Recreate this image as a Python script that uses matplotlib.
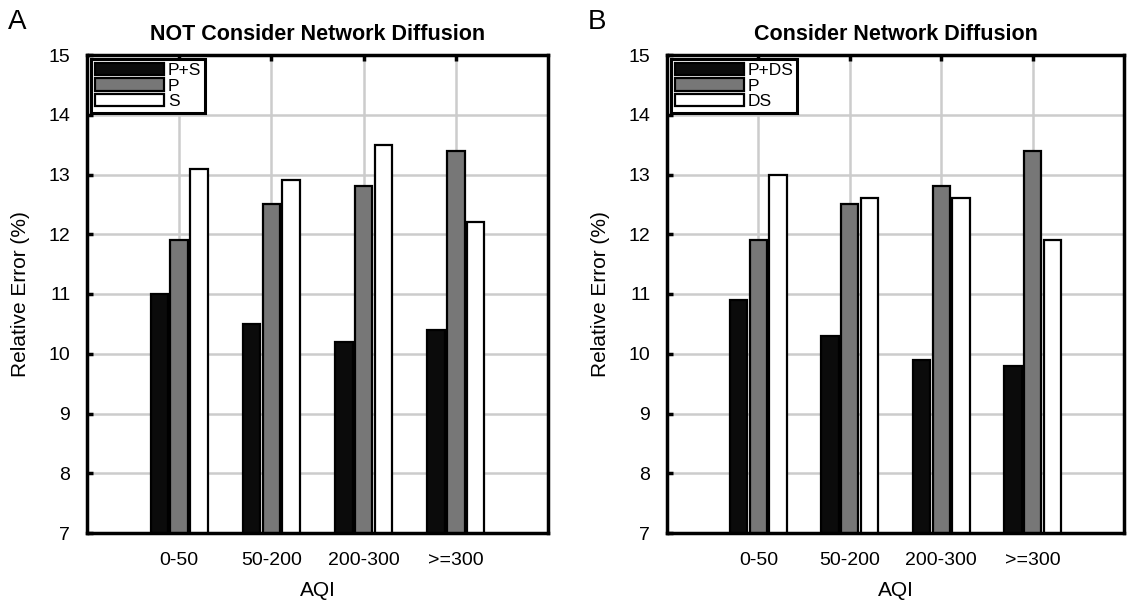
import matplotlib
matplotlib.use("Agg")
import matplotlib.pyplot as plt
import numpy as np

plt.rcParams['font.family'] = ['Liberation Sans', 'DejaVu Sans']

categories = ['0-50', '50-200', '200-300', '>=300']

# Panel A: NOT Consider Network Diffusion
a_ps = [11.0, 10.5, 10.2, 10.4]
a_p = [11.9, 12.5, 12.8, 13.4]
a_s = [13.1, 12.9, 13.5, 12.2]
a_labels = ['P+S', 'P', 'S']

# Panel B: Consider Network Diffusion
b_pds = [10.9, 10.3, 9.9, 9.8]
b_p = [11.9, 12.5, 12.8, 13.4]
b_ds = [13.0, 12.6, 12.6, 11.9]
b_labels = ['P+DS', 'P', 'DS']

yticks = [7, 8, 9, 10, 11, 12, 13, 14, 15]

colors = ['#0b0b0b', '#777777', '#ffffff']

fig = plt.figure(figsize=(11.29, 6.03), dpi=100)
axA = fig.add_axes([87/1129, 70/603, 461/1129, 478/603])
axB = fig.add_axes([667/1129, 70/603, 457/1129, 478/603])


def draw(ax, series, labels, title):
    x = np.arange(1, len(categories) + 1)
    offs = [-0.215, 0.0, 0.215]
    for vals, off, c, lab in zip(series, offs, colors, labels):
        ax.bar(x + off, vals, width=0.19, color=c, edgecolor='black',
               linewidth=1.6, label=lab, zorder=2)
    ax.set_xlim(0, 5)
    ax.set_ylim(7, 15)
    ax.set_xticks(x)
    ax.set_xticklabels(categories)
    ax.set_yticks(yticks)
    ax.grid(True, color='#cccccc', linewidth=1.8, zorder=0)
    ax.set_axisbelow(True)
    ax.tick_params(direction='in', length=4, width=2.5, top=True, right=False,
                   labelsize=14, pad=14, color='black')
    ax.tick_params(axis='y', pad=12)
    for sp in ax.spines.values():
        sp.set_linewidth(2.5)
        sp.set_zorder(5)
    ax.set_xlabel('AQI', fontsize=15, labelpad=8)
    ax.set_ylabel('Relative Error (%)', fontsize=15, labelpad=13)
    ax.set_title(title, fontsize=15.5, fontweight='bold', pad=11)
    leg = ax.legend(loc='upper left', fontsize=12.5, frameon=True, fancybox=False,
                    edgecolor='black', framealpha=1, borderpad=0.2,
                    labelspacing=0.02, handlelength=4.0, handleheight=0.72,
                    handletextpad=0.2, borderaxespad=0.25)
    leg.get_frame().set_linewidth(2.2)
    leg.set_zorder(6)


draw(axA, [a_ps, a_p, a_s], a_labels, 'NOT Consider Network Diffusion')
draw(axB, [b_pds, b_p, b_ds], b_labels, 'Consider Network Diffusion')

fig.text(8/1129, 1 - 22/603, 'A', fontsize=20, va='center', ha='left')
fig.text(588/1129, 1 - 22/603, 'B', fontsize=20, va='center', ha='left')

fig.savefig('out.png', dpi=100)
